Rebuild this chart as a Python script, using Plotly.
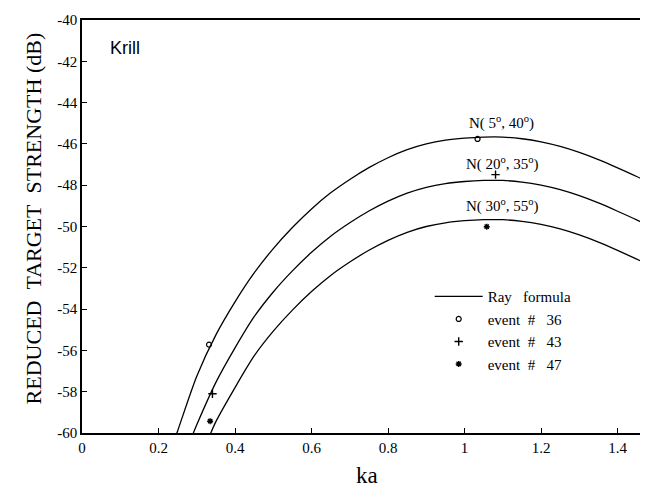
import plotly.graph_objects as go

# ---- data ----
ka_c1 = [0.246, 0.25, 0.30, 0.35, 0.40, 0.45, 0.50, 0.55, 0.60, 0.65, 0.70, 0.75, 0.80, 0.85, 0.90, 0.95, 1.00, 1.05, 1.10, 1.15, 1.20, 1.25, 1.30, 1.35, 1.40, 1.45, 1.49]
ts_c1 = [-60.1, -59.9, -57.25, -55.25, -53.65, -52.25, -51.07, -50.05, -49.15, -48.37, -47.72, -47.15, -46.67, -46.28, -46.0, -45.82, -45.72, -45.67, -45.67, -45.75, -45.9, -46.12, -46.41, -46.76, -47.16, -47.58, -47.94]

ka_c2 = [0.29, 0.30, 0.35, 0.40, 0.45, 0.50, 0.55, 0.60, 0.65, 0.70, 0.75, 0.80, 0.85, 0.90, 0.95, 1.00, 1.05, 1.10, 1.15, 1.20, 1.25, 1.30, 1.35, 1.40, 1.45, 1.49]
ts_c2 = [-60.05, -59.6, -57.55, -55.88, -54.37, -53.17, -52.15, -51.25, -50.47, -49.82, -49.25, -48.77, -48.38, -48.1, -47.92, -47.82, -47.77, -47.77, -47.85, -48.0, -48.22, -48.51, -48.86, -49.26, -49.68, -50.05]

ka_c3 = [0.335, 0.35, 0.40, 0.45, 0.50, 0.55, 0.60, 0.65, 0.70, 0.75, 0.80, 0.85, 0.90, 0.95, 1.00, 1.05, 1.10, 1.15, 1.20, 1.25, 1.30, 1.35, 1.40, 1.45, 1.49]
ts_c3 = [-60.08, -59.45, -57.8, -56.27, -55.07, -54.05, -53.15, -52.37, -51.72, -51.15, -50.67, -50.28, -50.0, -49.82, -49.72, -49.67, -49.67, -49.75, -49.9, -50.12, -50.41, -50.76, -51.16, -51.58, -51.92]

ev36_ka = [0.332, 1.034]
ev36_ts = [-55.72, -45.76]
ev43_ka = [0.341, 1.081]
ev43_ts = [-58.10, -47.49]
ev47_ka = [0.335, 1.058]
ev47_ts = [-59.43, -50.01]

curve_labels = ["N( 5<sup>o</sup>, 40<sup>o</sup>)", "N( 20<sup>o</sup>, 35<sup>o</sup>)", "N( 30<sup>o</sup>, 55<sup>o</sup>)"]
curve_label_ka = [1.096, 1.10, 1.10]
curve_label_ts = [-44.95, -46.95, -49.0]

y_tick_vals = [-40, -42, -44, -46, -48, -50, -52, -54, -56, -58, -60]
y_tick_text = ["-40", "-42", "-44", "-46", "-48", "-50", "-52", "-54", "-56", "-58", "-60"]
x_tick_vals = [0, 0.2, 0.4, 0.6, 0.8, 1.0, 1.2, 1.4]
x_tick_text = ["0", "0.2", "0.4", "0.6", "0.8", "1", "1.2", "1.4"]

FONT = "Liberation Serif"
NB = "\u00a0"

fig = go.Figure()
line_style = dict(color="black", width=1.3, shape="spline", smoothing=0.8)
fig.add_trace(go.Scatter(x=ka_c1, y=ts_c1, mode="lines", line=line_style,
                         name="Ray" + NB * 3 + "formula", showlegend=True))
fig.add_trace(go.Scatter(x=ka_c2, y=ts_c2, mode="lines", line=line_style, showlegend=False))
fig.add_trace(go.Scatter(x=ka_c3, y=ts_c3, mode="lines", line=line_style, showlegend=False))

fig.add_trace(go.Scatter(x=ev36_ka, y=ev36_ts, mode="markers",
                         marker=dict(symbol="circle-open", size=5, color="black", line=dict(width=1.2)),
                         name="event" + NB * 2 + "#" + NB * 3 + "36"))
fig.add_trace(go.Scatter(x=ev43_ka, y=ev43_ts, mode="markers",
                         marker=dict(symbol="cross-thin-open", size=6, color="black", line=dict(width=1.4)),
                         name="event" + NB * 2 + "#" + NB * 3 + "43"))
fig.add_trace(go.Scatter(x=ev47_ka, y=ev47_ts, mode="markers",
                         marker=dict(symbol="asterisk-open", size=5, color="black", line=dict(width=1.4)),
                         name="event" + NB * 2 + "#" + NB * 3 + "47"))

for txt, xk, yk in zip(curve_labels, curve_label_ka, curve_label_ts):
    fig.add_annotation(x=xk, y=yk, text=txt, showarrow=False,
                       font=dict(family=FONT, size=15, color="black"),
                       xanchor="center", yanchor="middle")

fig.add_annotation(xref="paper", yref="paper", x=0.045, y=0.932, text="Krill",
                   showarrow=False, xanchor="left", yanchor="middle",
                   font=dict(family="Liberation Sans", size=18, color="black"))
fig.add_annotation(xref="paper", yref="paper", x=-0.0857, y=0.52,
                   text="REDUCED" + NB * 2 + "TARGET" + NB * 2 + "STRENGTH" + NB + "(dB)",
                   textangle=-90, showarrow=False, xanchor="center", yanchor="middle",
                   font=dict(family=FONT, size=22, color="black"))
fig.add_annotation(xref="paper", yref="paper", x=0.5, y=-0.104, text="ka",
                   showarrow=False, xanchor="center", yanchor="middle",
                   font=dict(family=FONT, size=23, color="black"))

fig.update_layout(
    width=648, height=490,
    margin=dict(l=74, r=2, t=12, b=65),
    paper_bgcolor="white", plot_bgcolor="white",
    font=dict(family=FONT, size=15, color="black"),
    legend=dict(x=0.61, y=0.37, xanchor="left", yanchor="top",
                bgcolor="rgba(0,0,0,0)", borderwidth=0,
                font=dict(family=FONT, size=15, color="black"),
                itemwidth=48, tracegroupgap=0),
)
fig.update_xaxes(range=[0, 1.49], tickvals=x_tick_vals, ticktext=x_tick_text,
                 showgrid=False, zeroline=False, showline=True, linecolor="black", linewidth=1.5,
                 mirror=True, ticks="inside", ticklen=5, tickcolor="black",
                 tickfont=dict(family=FONT, size=15, color="black"))
fig.update_yaxes(range=[-60, -40], tickvals=y_tick_vals, ticktext=y_tick_text,
                 showgrid=False, zeroline=False, showline=True, linecolor="black", linewidth=1.5,
                 mirror="ticks", ticks="inside", ticklen=5, tickcolor="black",
                 tickfont=dict(family=FONT, size=15, color="black"))

fig.write_html("out.html")
